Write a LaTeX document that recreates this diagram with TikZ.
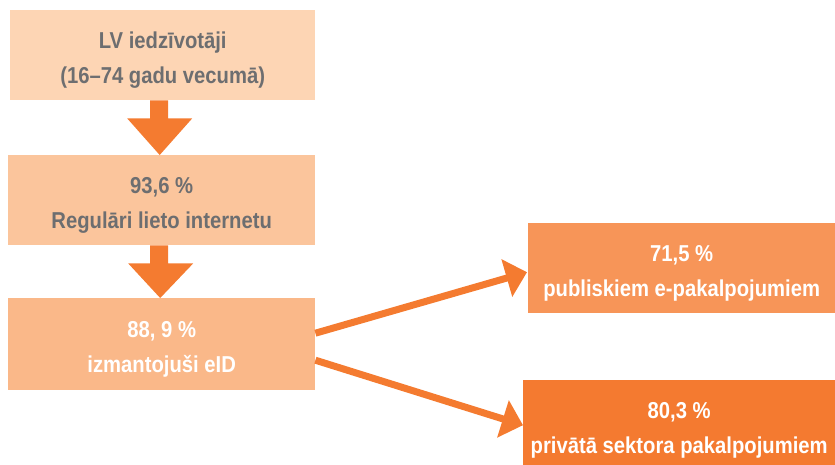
\documentclass[tikz,border=0pt]{standalone}
\usepackage{fontspec}
\setmainfont{Liberation Sans}[FakeStretch=0.88]
\usetikzlibrary{calc,arrows.meta}
\definecolor{boxA}{HTML}{FDD5B4}
\definecolor{boxB}{HTML}{FBC59C}
\definecolor{boxC}{HTML}{FAB889}
\definecolor{boxD}{HTML}{F79558}
\definecolor{boxE}{HTML}{F47A30}
\definecolor{arrowc}{HTML}{F47B30}
\definecolor{greytext}{HTML}{6D6E70}
\tikzset{
  stagebox/.style={anchor=north west, inner sep=0pt, minimum height=90pt},
  stagetext/.style={inner sep=0pt, yshift=-5pt, align=center,
    font=\bfseries\fontsize{23}{35}\selectfont},
  darktext/.style={stagetext, text=greytext},
  lighttext/.style={stagetext, text=white},
  blockarrow/.style={fill=arrowc},
  branch/.style={draw=arrowc, line width=7pt,
    -{Triangle[length=21pt,width=38pt]}},
}
\begin{document}
\begin{tikzpicture}[x=1pt,y=-1pt]
  \useasboundingbox (0,0) rectangle (835,464);
  \clip (0,0) rectangle (835,464);

  % stage boxes
  \node[stagebox, fill=boxA, minimum width=305pt] (b1) at (10,10) {};
  \node[stagebox, fill=boxB, minimum width=307pt] (b2) at (8,155) {};
  \node[stagebox, fill=boxC, minimum width=307pt, minimum height=92pt] (b3) at (8,298) {};
  \node[stagebox, fill=boxD, minimum width=307pt] (b4) at (528,223) {};
  \node[stagebox, fill=boxE, minimum width=312pt] (b5) at (523,380) {};

  % box labels
  \node[darktext] (t1) at (b1.center) {LV iedzīvotāji\\(16–74 gadu vecumā)};
  \node[darktext] (t2) at (b2.center) {93,6 \%\\Regulāri lieto internetu};
  \node[lighttext] (t3) at (b3.center) {88, 9 \%\\izmantojuši eID};
  \node[lighttext] (t4) at (b4.center) {71,5 \%\\publiskiem e-pakalpojumiem};
  \node[lighttext] (t5) at (b5.center) {80,3 \%\\privātā sektora pakalpojumiem};

  % block arrows between the stacked boxes
  \fill[blockarrow] ($(b1.south)+(-12.5,0)$) -- ++(0,18) -- ++(-23,0)
    -- ($(b2.north)+(-2,0)$) -- ($(b1.south)+(29.5,18)$) -- ++(-24,0)
    -- ($(b1.south)+(5.5,0)$) -- cycle;
  \fill[blockarrow] ($(b2.south)+(-11.5,0)$) -- ++(0,18) -- ++(-22,0)
    -- ($(b3.north)+(-1.5,0)$) -- ($(b2.south)+(31.5,18)$) -- ++(-25,0)
    -- ($(b2.south)+(6.5,0)$) -- cycle;

  % branches to the two service groups
  \draw[branch] ($(b3.east)+(0,-11)$) -- ($(b4.west)+(-1,4)$);
  \draw[branch] ($(b3.east)+(0,16)$) -- (b5.west);
\end{tikzpicture}
\end{document}
